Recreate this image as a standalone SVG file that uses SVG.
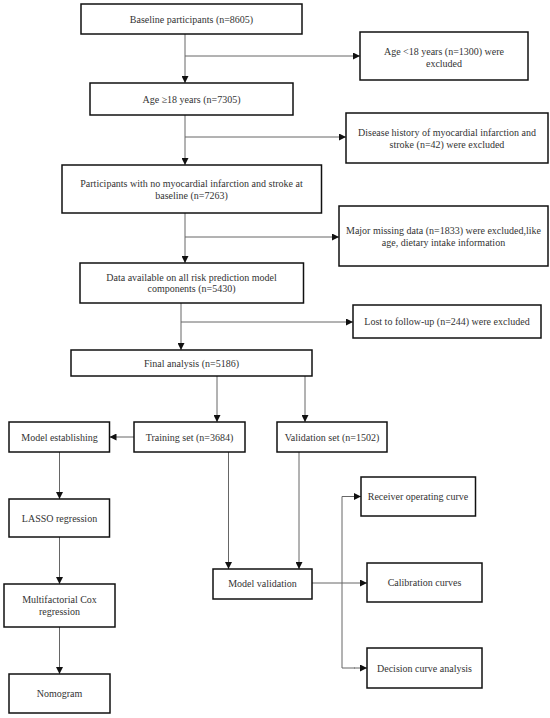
<svg xmlns="http://www.w3.org/2000/svg" width="550" height="718" viewBox="0 0 550 718">
<style>
.box{fill:#fff;stroke:#111;stroke-width:1.5}
.t{font-family:"Liberation Serif","Times New Roman",serif;font-size:10px;fill:#333;text-anchor:middle}
.c{fill:none;stroke:#666;stroke-width:1}
</style>
<defs>
<marker id="ah" viewBox="0 0 10 10" refX="10" refY="5" markerWidth="7" markerHeight="7" markerUnits="userSpaceOnUse" orient="auto">
<path d="M0,0 L10,5 L0,10 z" fill="#111"/>
</marker>
</defs>
<rect width="550" height="718" fill="#fff"/>
<g id="connectors">
<line class="c" x1="185" y1="34" x2="185" y2="83" marker-end="url(#ah)"/>
<line class="c" x1="185" y1="56" x2="360" y2="56" marker-end="url(#ah)"/>
<line class="c" x1="185" y1="115" x2="185" y2="165" marker-end="url(#ah)"/>
<line class="c" x1="185" y1="137" x2="346" y2="137" marker-end="url(#ah)"/>
<line class="c" x1="185" y1="213" x2="185" y2="263" marker-end="url(#ah)"/>
<line class="c" x1="185" y1="237" x2="339" y2="237" marker-end="url(#ah)"/>
<line class="c" x1="181" y1="303" x2="181" y2="350" marker-end="url(#ah)"/>
<line class="c" x1="181" y1="322" x2="353" y2="322" marker-end="url(#ah)"/>
<line class="c" x1="217" y1="376" x2="217" y2="422" marker-end="url(#ah)"/>
<line class="c" x1="305" y1="376" x2="305" y2="422" marker-end="url(#ah)"/>
<line class="c" x1="134" y1="437" x2="109.5" y2="437" marker-end="url(#ah)"/>
<line class="c" x1="59.5" y1="452" x2="59.5" y2="499" marker-end="url(#ah)"/>
<line class="c" x1="59.5" y1="537" x2="59.5" y2="584" marker-end="url(#ah)"/>
<line class="c" x1="59.5" y1="627" x2="59.5" y2="674" marker-end="url(#ah)"/>
<line class="c" x1="228.5" y1="452" x2="228.5" y2="569" marker-end="url(#ah)"/>
<line class="c" x1="299" y1="452" x2="299" y2="569" marker-end="url(#ah)"/>
<line class="c" x1="312" y1="583" x2="367" y2="583" marker-end="url(#ah)"/>
<polyline class="c" points="350,496.5 342,496.5 342,668 355,668"/>
<line class="c" x1="349" y1="496.5" x2="361" y2="496.5" marker-end="url(#ah)"/>
<line class="c" x1="354" y1="668" x2="367" y2="668" marker-end="url(#ah)"/>
</g>
<g id="n1"><rect class="box" x="81" y="4" width="221" height="30"/><text class="t" x="191.5" y="22.5">Baseline participants (n=8605)</text></g>
<g id="n2"><rect class="box" x="360" y="32" width="168" height="48"/><text class="t" x="444" y="55">Age &lt;18 years (n=1300) were</text><text class="t" x="444" y="66.5">excluded</text></g>
<g id="n3"><rect class="box" x="90" y="83" width="203" height="32"/><text class="t" x="191.5" y="102.5">Age ≥18 years (n=7305)</text></g>
<g id="n4"><rect class="box" x="346" y="113" width="202" height="50"/><text class="t" x="447" y="136">Disease history of myocardial infarction and</text><text class="t" x="447" y="148">stroke (n=42) were excluded</text></g>
<g id="n5"><rect class="box" x="62" y="165" width="259.5" height="48"/><text class="t" x="191.5" y="187">Participants with no myocardial infarction and stroke at</text><text class="t" x="191.5" y="198.5">baseline (n=7263)</text></g>
<g id="n6"><rect class="box" x="339" y="206" width="209" height="60"/><text class="t" x="443.5" y="234">Major missing data (n=1833) were excluded,like</text><text class="t" x="443.5" y="245.5">age, dietary intake information</text></g>
<g id="n7"><rect class="box" x="80" y="263" width="223.5" height="40"/><text class="t" x="191.5" y="280.5">Data available on all risk prediction model</text><text class="t" x="191.5" y="292">components (n=5430)</text></g>
<g id="n8"><rect class="box" x="353" y="305" width="188" height="33"/><text class="t" x="447" y="325">Lost to follow-up (n=244) were excluded</text></g>
<g id="n9"><rect class="box" x="71" y="350" width="241" height="26"/><text class="t" x="191.5" y="366.5">Final analysis (n=5186)</text></g>
<g id="n10"><rect class="box" x="134" y="422" width="111" height="30"/><text class="t" x="189.5" y="440.5">Training set (n=3684)</text></g>
<g id="n11"><rect class="box" x="277" y="422" width="110" height="30"/><text class="t" x="332" y="440.5">Validation set (n=1502)</text></g>
<g id="n12"><rect class="box" x="9" y="422" width="100.5" height="30"/><text class="t" x="59.5" y="440.5">Model establishing</text></g>
<g id="n13"><rect class="box" x="9" y="499" width="100.5" height="38"/><text class="t" x="59.5" y="521.5">LASSO regression</text></g>
<g id="n14"><rect class="box" x="361" y="477" width="114.5" height="39"/><text class="t" x="418" y="500">Receiver operating curve</text></g>
<g id="n15"><rect class="box" x="4" y="584" width="111" height="43"/><text class="t" x="59.5" y="603">Multifactorial Cox</text><text class="t" x="59.5" y="615">regression</text></g>
<g id="n16"><rect class="box" x="213" y="569" width="99" height="30"/><text class="t" x="262.5" y="586.5">Model validation</text></g>
<g id="n17"><rect class="box" x="367" y="563" width="115" height="39"/><text class="t" x="424.5" y="586">Calibration curves</text></g>
<g id="n18"><rect class="box" x="367" y="648" width="115" height="40"/><text class="t" x="424.5" y="671.5">Decision curve analysis</text></g>
<g id="n19"><rect class="box" x="9" y="674" width="101" height="39"/><text class="t" x="59.5" y="697">Nomogram</text></g>
</svg>
